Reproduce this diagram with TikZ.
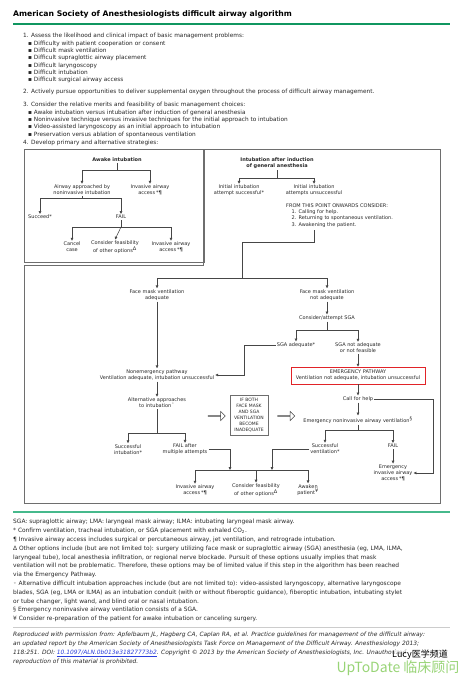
\documentclass[tikz,border=0pt]{standalone}
\usepackage{fontspec}
\setmainfont{DejaVu Sans}
\newfontfamily\cjkfont{Noto Sans CJK SC}
\usepackage{tikz}
\usetikzlibrary{positioning}
\usetikzlibrary{arrows.meta}
\usetikzlibrary{shapes.arrows}
\definecolor{asa_green}{RGB}{16,150,96}
\definecolor{asa_rule}{RGB}{70,185,140}
\definecolor{asa_text}{RGB}{40,40,40}
\definecolor{asa_line}{RGB}{70,70,70}
\definecolor{asa_frame}{RGB}{110,110,110}
\definecolor{asa_red}{RGB}{225,35,40}
\definecolor{asa_link}{RGB}{40,60,220}
\definecolor{asa_mark}{RGB}{135,205,95}
\tikzstyle{flow_text} = [font = \fontsize{5}{6.2}\selectfont, text = asa_text, align = center, inner sep = 1pt]
\tikzstyle{flow_head} = [flow_text, font = \fontsize{5}{6.2}\selectfont\bfseries]
\tikzstyle{flow_line} = [draw = asa_line, line width = 0.55pt]
\tikzstyle{flow_arrow} = [flow_line, -{Triangle[length = 2.8pt, width = 2.6pt]}]
\tikzstyle{flow_frame} = [draw = asa_frame, line width = 0.9pt]
\tikzstyle{emergency_box} = [flow_text, draw = asa_red, line width = 0.9pt, minimum width = 134pt, minimum height = 17pt]
\tikzstyle{if_box} = [draw = asa_frame, line width = 0.8pt, font = \fontsize{4.5}{6}\selectfont, text = asa_text, align = center, minimum width = 38pt, minimum height = 40pt, inner sep = 0.5pt]
\tikzstyle{hollow_arrow} = [single arrow, draw = asa_line, fill = white, line width = 0.5pt, minimum height = 17pt, minimum width = 9pt, single arrow head extend = 2.5pt, inner sep = 0pt]
\tikzstyle{list_text} = [font = \fontsize{5.8}{7.3}\selectfont, text = asa_text, align = left, anchor = north west, inner sep = 0pt]
\tikzstyle{note_text} = [font = \fontsize{5.9}{8.8}\selectfont, text = asa_text, align = left, anchor = north west, inner sep = 0pt]
\newcommand{\bul}{\hspace*{5pt}▪\ }
\newcommand{\acc}{access\,*\textbf{¶}}

\begin{document}
\begin{tikzpicture}[x = 1pt, y = -1pt]
    \useasboundingbox (0, 0) rectangle (470, 680);
    \fill [white] (0, 0) rectangle (470, 680);

    % title
    \node [anchor = west, inner sep = 0pt, font = \fontsize{7.7}{8.5}\selectfont\bfseries, text = black] (title) at (13, 14) {American Society of Anesthesiologists difficult airway algorithm};
    \draw [asa_green, line width = 2pt] (13, 24) -- (450, 24);

    % numbered steps
    \node [style = {list_text}] (step_one) at (23, 33.3) {1. Assess the likelihood and clinical impact of basic management problems:\\
        \bul Difficulty with patient cooperation or consent\\
        \bul Difficult mask ventilation\\
        \bul Difficult supraglottic airway placement\\
        \bul Difficult laryngoscopy\\
        \bul Difficult intubation\\
        \bul Difficult surgical airway access};
    \node [style = {list_text}] (step_two) at (23, 88.8) {2. Actively pursue opportunities to deliver supplemental oxygen throughout the process of difficult airway management.};
    \node [style = {list_text}] (step_three) at (23, 102.3) {3. Consider the relative merits and feasibility of basic management choices:\\
        \bul Awake intubation versus intubation after induction of general anesthesia\\
        \bul Noninvasive technique versus invasive techniques for the initial approach to intubation\\
        \bul Video-assisted laryngoscopy as an initial approach to intubation\\
        \bul Preservation versus ablation of spontaneous ventilation};
    \node [style = {list_text}] (step_four) at (23, 140.3) {4. Develop primary and alternative strategies:};

    % awake intubation
    \draw [style = {flow_frame}] (24, 149) rectangle (204, 262);
    \node [style = {flow_head}] (awake) at (117, 160) {Awake intubation};
    \node [style = {flow_text}] (awake_noninvasive) at (82, 190) {Airway approached by\\noninvasive intubation};
    \node [style = {flow_text}] (awake_invasive) at (150, 190) {Invasive airway\\\acc};
    \node [style = {flow_text}] (awake_succeed) at (40, 217) {Succeed*};
    \node [style = {flow_text}] (awake_fail) at (121, 217) {FAIL};
    \node [style = {flow_text}] (awake_cancel) at (72, 247) {Cancel\\case};
    \node [style = {flow_text}] (awake_options) at (115, 247) {Consider feasibility\\of other options\textsuperscript{Δ}};
    \node [style = {flow_text}] (awake_access) at (171, 247) {Invasive airway\\\acc};
    \coordinate (awake_split) at (117, 170);
    \coordinate (noninvasive_split) at (82, 198);
    \coordinate (fail_split) at (121, 227);
    \draw [style = {flow_line}] (awake) -- (awake_split);
    \draw [style = {flow_arrow}] (awake_split) -| (awake_noninvasive.north);
    \draw [style = {flow_arrow}] (awake_split) -| (awake_invasive.north);
    \draw [style = {flow_line}] (awake_noninvasive) -- (noninvasive_split);
    \draw [style = {flow_arrow}] (noninvasive_split) -| (awake_succeed.north);
    \draw [style = {flow_arrow}] (noninvasive_split) -| (awake_fail.north);
    \draw [style = {flow_line}] (awake_fail) -- (fail_split);
    \draw [style = {flow_arrow}] (fail_split) -| (awake_cancel.north);
    \draw [style = {flow_arrow}] (fail_split) -- (awake_options.north);
    \draw [style = {flow_arrow}] (fail_split) -| (awake_access.north);

    % intubation after induction
    \draw [style = {flow_frame}] (203, 149) -- (440, 149) -- (440, 503) -- (24, 503) -- (24, 265) -- (203, 265) -- cycle;
    \node [style = {flow_head}] (induction) at (277, 163.5) {Intubation after induction\\of general anesthesia};
    \node [style = {flow_text}] (initial_ok) at (239, 190.5) {Initial intubation\\attempt successful*};
    \node [style = {flow_text}] (initial_fail) at (314, 190.5) {Initial intubation\\attempts unsuccessful};
    \node [style = {flow_text}, align = left, anchor = north west, inner sep = 0pt] (onwards) at (286, 203.5) {FROM THIS POINT ONWARDS CONSIDER:\\
        \hspace*{5.5pt}1. Calling for help.\\
        \hspace*{5.5pt}2. Returning to spontaneous ventilation.\\
        \hspace*{5.5pt}3. Awakening the patient.};
    \coordinate (induction_split) at (277, 178);
    \coordinate (onwards_turn) at (242, 242);
    \coordinate (mask_split) at (242, 278);
    \draw [style = {flow_line}] (induction) -- (induction_split);
    \draw [style = {flow_arrow}] (induction_split) -| (initial_ok.north);
    \draw [style = {flow_arrow}] (induction_split) -| (initial_fail.north);
    \draw [style = {flow_line}] ([yshift = -3pt] onwards.south -| initial_fail) |- (onwards_turn) -- (mask_split);

    % face mask ventilation
    \node [style = {flow_text}] (mask_ok) at (157, 295) {Face mask ventilation\\adequate};
    \node [style = {flow_text}] (mask_fail) at (327, 295) {Face mask ventilation\\not adequate};
    \draw [style = {flow_arrow}] (mask_split) -| (mask_ok.north);
    \draw [style = {flow_arrow}] (mask_split) -| (mask_fail.north);

    \node [style = {flow_text}] (nonemergency) at (157, 375) {Nonemergency pathway\\Ventilation adequate, intubation unsuccessful};
    \draw [style = {flow_arrow}] (mask_ok) -- (nonemergency);

    \node [style = {flow_text}] (sga_try) at (327, 318) {Consider/attempt SGA};
    \node [style = {flow_text}] (sga_ok) at (296, 345) {SGA adequate*};
    \node [style = {flow_text}] (sga_fail) at (358, 348) {SGA not adequate\\or not feasible};
    \coordinate (sga_split) at (327, 330);
    \coordinate (sga_turn) at (244, 345);
    \draw [style = {flow_arrow}] (mask_fail) -- (sga_try);
    \draw [style = {flow_line}] (sga_try) -- (sga_split);
    \draw [style = {flow_arrow}] (sga_split) -| (sga_ok.north);
    \draw [style = {flow_arrow}] (sga_split) -| (sga_fail.north);
    \draw [style = {flow_arrow}] (sga_ok) -- (sga_turn) |- (nonemergency.east);

    % emergency pathway
    \node [style = {emergency_box}] (emergency) at (358, 375.5) {EMERGENCY PATHWAY\\Ventilation not adequate, intubation unsuccessful};
    \node [style = {flow_text}] (call_help) at (358, 399) {Call for help};
    \node [style = {flow_text}] (emergency_sga) at (358, 420) {Emergency noninvasive airway ventilation\textsuperscript{§}};
    \node [style = {flow_text}] (vent_ok) at (325, 449) {Successful\\ventilation*};
    \node [style = {flow_text}] (vent_fail) at (393, 446) {FAIL};
    \node [style = {flow_text}] (emergency_access) at (393, 473) {Emergency\\invasive airway\\\acc};
    \coordinate (vent_split) at (358, 430);
    \coordinate (help_turn) at (433, 399);
    \draw [style = {flow_arrow}] (sga_fail) -- (emergency);
    \draw [style = {flow_arrow}] (emergency) -- (call_help);
    \draw [style = {flow_arrow}] (call_help) -- (emergency_sga);
    \draw [style = {flow_line}] (emergency_sga) -- (vent_split);
    \draw [style = {flow_arrow}] (vent_split) -| (vent_ok.north);
    \draw [style = {flow_arrow}] (vent_split) -| (vent_fail.north);
    \draw [style = {flow_arrow}] (vent_fail) -- (emergency_access);
    \draw [style = {flow_arrow}] (call_help) -- (help_turn) |- (emergency_access.east);

    % nonemergency pathway
    \node [style = {flow_text}] (alternative) at (157, 403) {Alternative approaches\\to intubation\textsuperscript{◦}};
    \node [style = {flow_text}] (intubation_ok) at (128, 449.5) {Successful\\intubation*};
    \node [style = {flow_text}] (intubation_fail) at (185, 449.5) {FAIL after\\multiple attempts};
    \coordinate (alternative_split) at (157, 433);
    \draw [style = {flow_arrow}] (nonemergency) -- (alternative);
    \draw [style = {flow_line}] (alternative) -- (alternative_split);
    \draw [style = {flow_arrow}] (alternative_split) -| (intubation_ok.north);
    \draw [style = {flow_arrow}] (alternative_split) -| (intubation_fail.north);

    \node [style = {if_box}] (both_fail) at (249, 415) {IF BOTH\\FACE MASK\\AND SGA\\VENTILATION\\BECOME\\INADEQUATE};
    \node [style = {hollow_arrow}] (to_both) at (216.5, 416) {};
    \node [style = {hollow_arrow}] (from_both) at (286, 416) {};

    % final options
    \node [style = {flow_text}] (final_access) at (195, 490) {Invasive airway\\\acc};
    \node [style = {flow_text}] (final_options) at (256, 490) {Consider feasibility\\of other options\textsuperscript{Δ}};
    \node [style = {flow_text}] (final_awaken) at (308, 490) {Awaken\\patient\textsuperscript{¥}};
    \coordinate (bar_left) at (195, 470);
    \coordinate (bar_mid) at (256, 470);
    \coordinate (bar_right) at (308, 470);
    \coordinate (bar_in_left) at (230, 470);
    \coordinate (bar_in_right) at (272, 470);
    \draw [style = {flow_arrow}] (intubation_fail.east) -| (bar_in_left);
    \draw [style = {flow_arrow}] (vent_ok.west) -| (bar_in_right);
    \draw [style = {flow_line}] (bar_left) -- (bar_right);
    \draw [style = {flow_arrow}] (bar_left) -- (final_access.north);
    \draw [style = {flow_arrow}] (bar_mid) -- (final_options.north);
    \draw [style = {flow_arrow}] (bar_right) -- (final_awaken.north);

    % notes
    \draw [asa_rule, line width = 1.4pt] (13, 512) -- (450, 512);
    \node [style = {note_text}] (notes) at (13, 519.3) {SGA: supraglottic airway; LMA: laryngeal mask airway; ILMA: intubating laryngeal mask airway.\\
        * Confirm ventilation, tracheal intubation, or SGA placement with exhaled CO\textsubscript{2}.\\
        ¶ Invasive airway access includes surgical or percutaneous airway, jet ventilation, and retrograde intubation.\\
        Δ Other options include (but are not limited to): surgery utilizing face mask or supraglottic airway (SGA) anesthesia (eg, LMA, ILMA,\\
        laryngeal tube), local anesthesia infiltration, or regional nerve blockade. Pursuit of these options usually implies that mask\\
        ventilation will not be problematic. Therefore, these options may be of limited value if this step in the algorithm has been reached\\
        via the Emergency Pathway.\\
        ◦ Alternative difficult intubation approaches include (but are not limited to): video-assisted laryngoscopy, alternative laryngoscope\\
        blades, SGA (eg, LMA or ILMA) as an intubation conduit (with or without fiberoptic guidance), fiberoptic intubation, intubating stylet\\
        or tube changer, light wand, and blind oral or nasal intubation.\\
        § Emergency noninvasive airway ventilation consists of a SGA.\\
        ¥ Consider re-preparation of the patient for awake intubation or canceling surgery.};
    \draw [black!20, line width = 0.6pt] (13, 627) -- (450, 627);
    \node [style = {note_text}, font = \fontsize{5.9}{8.8}\selectfont\itshape] (source) at (13, 632.3) {Reproduced with permission from: Apfelbaum JL, Hagberg CA, Caplan RA, et al. Practice guidelines for management of the difficult airway:\\
        an updated report by the American Society of Anesthesiologists Task Force on Management of the Difficult Airway. Anesthesiology 2013;\\
        118:251. DOI: \textcolor{asa_link}{\underline{10.1097/ALN.0b013e31827773b2}}. Copyright © 2013 by the American Society of Anesthesiologists, Inc. Unauthorized\\
        reproduction of this material is prohibited.};

    % watermarks
    \node [font = \cjkfont\fontsize{9}{10}\selectfont, text = black, fill = white, fill opacity = 0.6, text opacity = 1, inner sep = 0.5pt] (wechat) at (420, 655) {Lucy医学频道};
    \node [font = \cjkfont\fontsize{14}{15}\selectfont, text = asa_mark, text opacity = 0.85, inner sep = 0pt] (uptodate) at (398, 668) {UpToDate 临床顾问};
\end{tikzpicture}
\end{document}
